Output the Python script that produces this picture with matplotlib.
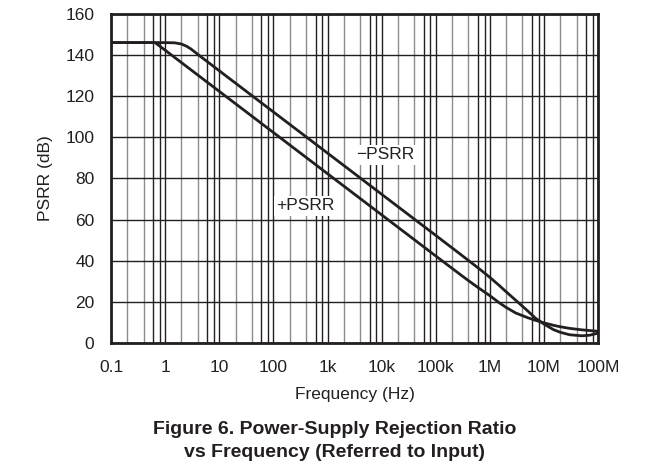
import matplotlib
matplotlib.use('Agg')
import matplotlib.pyplot as plt
import numpy as np

plt.rcParams['font.family'] = ['Liberation Sans', 'DejaVu Sans']

# -PSRR curve (Hz, dB)
neg_freq = [0.1, 1, 1.5, 2, 2.5, 3, 4, 10, 100, 1e3, 1e4, 1e5, 3e5, 5e5, 7e5, 1e6,
            1.5e6, 2e6, 3e6, 5e6, 7e6, 1e7, 1.5e7, 2e7, 3e7, 5e7, 7e7, 1e8]
neg_psrr = [146, 146, 145.9, 145.3, 144.2, 142.9, 140.3, 132.3, 112.3, 92.3, 72.3, 52.3, 42.7, 38.2, 35.2, 31.9,
            27.9, 24.9, 20.8, 15.6, 12, 9.2, 6.5, 5.2, 4.0, 3.5, 3.8, 4.8]

# +PSRR curve (Hz, dB)
pos_freq = [0.1, 0.65, 1, 10, 100, 1e3, 1e4, 1e5, 3e5, 5e5, 7e5, 1e6,
            1.5e6, 2e6, 3e6, 5e6, 7e6, 1e7, 1.5e7, 2e7, 3e7, 5e7, 1e8]
pos_psrr = [146, 146, 142.3, 122.3, 102.3, 82.3, 62.3, 42.3, 32.8, 28.5, 25.8, 23,
            19.5, 17.3, 14.6, 12.3, 11, 9.8, 8.6, 7.9, 7.1, 6.4, 5.7]

xticks = [0.1, 1, 10, 100, 1e3, 1e4, 1e5, 1e6, 1e7, 1e8]
xlabels = ['0.1', '1', '10', '100', '1k', '10k', '100k', '1M', '10M', '100M']
yticks = [0, 20, 40, 60, 80, 100, 120, 140, 160]

ink = '#231f20'

fig = plt.figure(figsize=(6.69, 4.76), dpi=100)
ax = fig.add_axes([0.166, 0.2794, 0.728, 0.6916])

ax.set_xscale('log')
ax.set_xlim(0.1, 1e8)
ax.set_ylim(0, 160)

# grid: decades and y dark, minor 2/4 grey, 6/8 dark
for d in xticks:
    for m in (2, 4, 6, 8):
        f = d * m
        if f < 1e8:
            c = '#8c8c8c' if m < 6 else ink
            ax.axvline(f, color=c, lw=1.0, zorder=1)
    ax.axvline(d, color=ink, lw=1.0, zorder=1)
for y in yticks:
    ax.axhline(y, color=ink, lw=1.0, zorder=1)

ax.plot(neg_freq, neg_psrr, color=ink, lw=2.0, zorder=3)
ax.plot(pos_freq, pos_psrr, color=ink, lw=2.0, zorder=3)

box = dict(facecolor='white', edgecolor='none', pad=1.5)
ax.text(1.17e4, 91.4, '\u2212PSRR', fontsize=12.5, ha='center', va='center',
        color=ink, bbox=box, zorder=4)
ax.text(390, 66.6, '+PSRR', fontsize=12.5, ha='center', va='center',
        color=ink, bbox=box, zorder=4)

ax.set_xticks(xticks)
ax.set_xticklabels(xlabels)
ax.minorticks_off()
ax.set_yticks(yticks)
ax.tick_params(length=0, labelsize=12.5, colors=ink)
ax.tick_params(axis='x', pad=12)
ax.tick_params(axis='y', pad=12)
ax.set_xlabel('Frequency (Hz)', fontsize=12.5, color=ink, labelpad=9)
ax.set_ylabel('PSRR (dB)', fontsize=12.5, color=ink, labelpad=9)

for s in ax.spines.values():
    s.set_linewidth(2.0)
    s.set_color(ink)
    s.set_zorder(5)

fig.text(0.5, 0.0735, 'Figure 6. Power-Supply Rejection Ratio\nvs Frequency (Referred to Input)',
         ha='center', va='center', fontsize=14, fontweight='bold', color=ink,
         linespacing=1.45)

fig.savefig('out.png', dpi=100)
